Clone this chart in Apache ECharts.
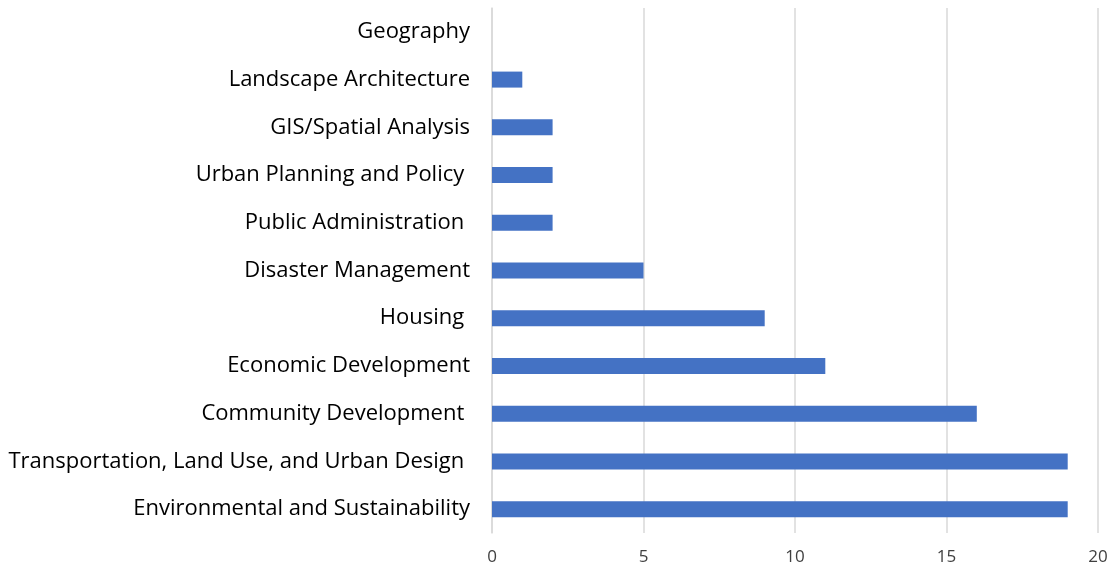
<!DOCTYPE html>
<html>
<head>
<meta charset="utf-8">
<script src="https://cdn.jsdelivr.net/npm/echarts@6/dist/echarts.min.js"></script>
<style>
  html, body { margin: 0; padding: 0; background: #fff; }
  #chart { width: 1111px; height: 574px; }
</style>
</head>
<body>
<div id="chart"></div>
<script>
// categories from bottom to top
const categories = [
  'Environmental and Sustainability',
  'Transportation, Land Use, and Urban Design ',
  'Community Development ',
  'Economic Development',
  'Housing ',
  'Disaster Management',
  'Public Administration ',
  'Urban Planning and Policy ',
  'GIS/Spatial Analysis',
  'Landscape Architecture',
  'Geography'
];
const counts = [19, 19, 16, 11, 9, 5, 2, 2, 2, 1, 0];

const chart = echarts.init(document.getElementById('chart'));
chart.setOption({
  animation: false,
  grid: { left: 492, right: 13, top: 8, bottom: 41 },
  xAxis: {
    type: 'value',
    min: 0,
    max: 20,
    interval: 5,
    axisLine: { show: false },
    axisTick: { show: false },
    axisLabel: { color: '#404040', fontSize: 17, fontFamily: 'Open Sans', margin: 16 },
    splitLine: { lineStyle: { color: '#d9d9d9', width: 1.5 } }
  },
  yAxis: {
    type: 'category',
    data: categories,
    axisLine: { show: true, lineStyle: { color: '#d9d9d9', width: 1.5 } },
    axisTick: { show: false },
    axisLabel: { color: '#000', fontSize: 22, fontFamily: 'Open Sans', margin: 22 }
  },
  series: [{
    type: 'bar',
    data: counts,
    barWidth: 16,
    itemStyle: { color: '#4472C4' }
  }]
});
</script>
</body>
</html>
